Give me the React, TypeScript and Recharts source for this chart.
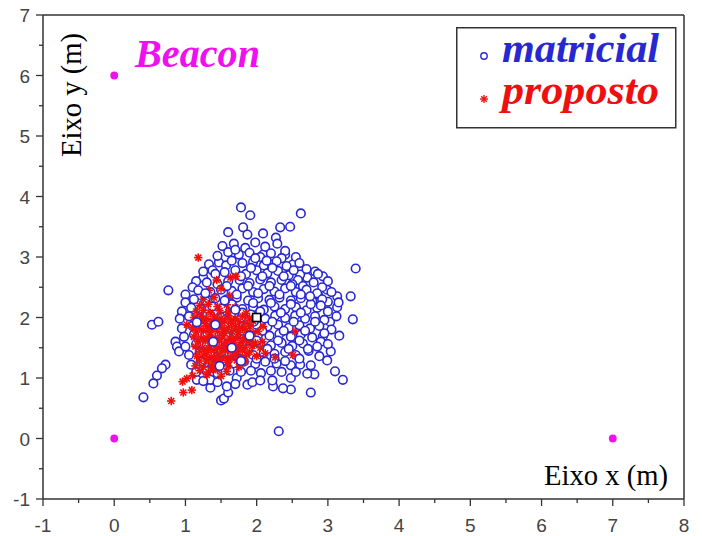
import { ScatterChart, Scatter, XAxis, YAxis, ReferenceLine, Legend, Customized } from "recharts"

// tick values (0.5 steps, labels only on integers)
const xTicks = [-1, -0.5, 0, 0.5, 1, 1.5, 2, 2.5, 3, 3.5, 4, 4.5, 5, 5.5, 6, 6.5, 7, 7.5, 8]
const yTicks = [-1, -0.5, 0, 0.5, 1, 1.5, 2, 2.5, 3, 3.5, 4, 4.5, 5, 5.5, 6, 6.5, 7]

const beacons: [number, number][] = [[0, 6], [0, 0], [7, 0]]
const realPos: [number, number][] = [[2, 2]]

// "matricial" estimates (blue circles)
const matricial: [number, number][] = [
  [1.78, 3.82], [1.91, 3.69], [2.62, 3.72], [1.6, 3.41], [1.81, 3.49], [1.87, 3.37], [2.47, 3.5], [2.33, 3.49],
  [2.27, 3.32], [2.29, 3.22], [2.09, 3.39], [1.33, 2.88], [1.47, 2.91], [1.57, 2.86], [0.76, 2.45], [1.25, 2.66],
  [1.15, 2.6], [3.39, 2.81], [3.32, 2.35], [0.53, 1.88], [0.62, 1.93], [0.86, 1.6], [0.88, 1.52], [0.91, 1.44],
  [0.72, 1.22], [0.67, 1.16], [0.6, 1.04], [0.55, 0.91], [0.41, 0.68], [1.16, 0.97], [1.35, 0.84], [1.35, 0.97],
  [1.5, 0.63], [1.54, 0.66], [1.6, 0.76], [1.58, 0.86], [1.87, 0.89], [1.94, 0.93], [1.72, 1.0], [3.35, 1.97],
  [3.03, 1.93], [3.16, 1.7], [2.93, 1.69], [3.04, 1.44], [2.99, 1.29], [3.1, 1.11], [3.21, 0.97], [2.73, 1.45],
  [2.76, 1.21], [2.81, 1.06], [2.71, 1.07], [2.76, 0.76], [2.48, 1.0], [2.48, 0.81], [2.37, 0.83], [2.23, 0.86],
  [2.22, 0.96], [2.31, 0.12], [2.61, 1.22], [2.48, 1.21], [2.82, 2.76], [2.93, 2.68], [2.99, 2.46], [3.13, 2.35],
  [3.13, 2.17], [3.0, 2.26], [2.86, 2.38], [2.71, 2.66], [2.61, 2.71], [2.51, 2.88], [2.4, 3.04], [2.23, 2.88],
  [2.09, 3.04],
  [1.52, 3.18], [1.68, 3.22], [1.84, 3.15], [1.98, 3.24], [2.12, 3.17], [2.4, 3.1],
  [1.45, 3.02], [1.6, 3.08], [1.75, 3.04], [1.9, 3.07], [2.05, 3.0], [2.2, 3.06], [2.35, 2.98], [2.55, 3.0],
  [1.38, 2.78], [1.65, 2.94], [1.8, 2.9], [1.95, 2.92], [2.1, 2.86], [2.28, 2.93], [2.42, 2.85], [2.6, 2.9], [2.7, 2.8],
  [1.25, 2.76], [1.42, 2.72], [1.55, 2.75], [1.7, 2.78], [1.85, 2.72], [2.0, 2.78], [2.15, 2.73], [2.3, 2.77],
  [2.45, 2.7], [2.58, 2.62], [2.86, 2.72], [3.0, 2.6],
  [1.1, 2.5], [1.3, 2.58], [1.45, 2.55], [1.6, 2.6], [1.76, 2.62], [1.9, 2.57], [2.05, 2.63], [2.2, 2.58],
  [2.35, 2.62], [2.5, 2.55], [2.65, 2.52], [2.8, 2.58], [2.92, 2.5],
  [1.0, 2.38], [1.18, 2.45], [1.35, 2.42], [1.5, 2.46], [1.65, 2.44], [1.8, 2.48], [1.95, 2.42], [2.1, 2.47],
  [2.25, 2.43], [2.4, 2.48], [2.55, 2.42], [2.7, 2.46], [2.85, 2.4], [3.05, 2.42],
  [1.0, 2.25], [1.12, 2.3], [1.28, 2.28], [1.42, 2.32], [1.58, 2.3], [1.72, 2.33], [1.88, 2.28], [2.02, 2.32],
  [2.18, 2.29], [2.32, 2.33], [2.48, 2.28], [2.62, 2.32], [2.78, 2.27], [2.92, 2.3], [3.15, 2.25],
  [0.95, 2.1], [1.08, 2.16], [1.22, 2.14], [1.38, 2.18], [1.52, 2.15], [1.66, 2.18], [1.8, 2.14], [1.95, 2.17],
  [2.1, 2.13], [2.25, 2.18], [2.4, 2.14], [2.55, 2.17], [2.7, 2.12], [2.85, 2.16], [3.0, 2.1],
  [0.92, 1.98], [1.05, 2.02], [1.2, 1.98], [1.35, 2.03], [1.5, 2.0], [1.64, 2.04], [1.78, 1.99], [1.92, 2.05],
  [2.12, 1.98], [2.26, 2.03], [2.4, 1.99], [2.54, 2.03], [2.68, 1.98], [2.82, 2.02], [2.95, 1.96], [3.12, 2.02],
  [0.95, 1.82], [1.1, 1.86], [1.25, 1.84], [1.4, 1.88], [1.55, 1.85], [1.7, 1.88], [1.85, 1.84], [2.0, 1.88],
  [2.15, 1.85], [2.3, 1.88], [2.45, 1.83], [2.6, 1.87], [2.75, 1.82], [2.88, 1.86], [3.05, 1.8],
  [0.98, 1.68], [1.12, 1.72], [1.28, 1.7], [1.42, 1.73], [1.58, 1.7], [1.72, 1.73], [1.88, 1.68], [2.02, 1.72],
  [2.18, 1.7], [2.32, 1.73], [2.48, 1.68], [2.62, 1.72], [2.78, 1.67], [2.9, 1.6],
  [1.0, 1.52], [1.15, 1.56], [1.3, 1.54], [1.45, 1.58], [1.6, 1.55], [1.75, 1.58], [1.9, 1.53], [2.05, 1.57],
  [2.2, 1.54], [2.35, 1.58], [2.5, 1.53], [2.65, 1.57], [2.85, 1.52], [3.0, 1.56],
  [1.05, 1.38], [1.2, 1.42], [1.35, 1.4], [1.5, 1.43], [1.65, 1.4], [1.8, 1.43], [1.95, 1.38], [2.1, 1.42],
  [2.25, 1.4], [2.4, 1.43], [2.55, 1.38], [2.88, 1.36],
  [1.08, 1.22], [1.22, 1.27], [1.38, 1.25], [1.52, 1.28], [1.68, 1.24], [1.82, 1.27], [1.98, 1.23], [2.12, 1.27],
  [2.28, 1.24], [2.4, 1.28], [2.6, 1.32],
  [1.15, 1.1], [1.3, 1.12], [1.45, 1.08], [1.62, 1.12], [1.78, 1.1], [1.92, 1.12], [2.06, 1.08], [2.2, 1.12],
  [2.35, 1.1], [2.55, 1.1], [1.25, 0.95], [1.45, 0.93], [2.05, 0.96], [1.7, 0.9],
  [1.58, 2.52], [1.72, 2.38], [1.88, 2.52], [2.02, 2.4], [2.18, 2.52], [2.32, 2.38], [2.48, 2.52], [2.62, 2.38],
  [1.65, 2.22], [1.8, 2.08], [1.95, 2.24], [2.05, 2.1], [2.2, 2.24], [2.34, 2.08], [2.48, 2.22], [2.62, 2.08],
  [2.76, 2.22], [1.8, 1.78], [1.96, 1.93], [2.08, 1.78], [2.22, 1.93], [2.38, 1.78], [2.52, 1.93], [2.68, 1.78],
  [2.82, 1.93], [1.78, 2.68], [1.92, 2.82], [2.08, 2.68], [2.22, 2.82], [2.38, 2.68], [2.52, 2.78], [1.98, 2.98],
  [2.14, 2.94], [1.7, 3.12], [2.0, 1.62], [2.15, 1.48], [2.3, 1.62], [2.45, 1.48], [2.6, 1.62], [2.72, 1.48],
  [1.88, 1.48], [2.25, 1.32], [2.0, 1.32], [1.75, 1.32], [2.75, 2.35], [2.9, 2.2], [2.95, 1.74],
]

// "matricial" estimates that sit on top of the red cluster
const matricialTop: [number, number][] = [
  [1.42, 1.88], [1.65, 1.5], [1.16, 1.92], [1.7, 2.13], [1.39, 1.6], [1.55, 2.28], [1.28, 2.4], [1.9, 1.7],
  [1.48, 1.2], [1.78, 1.28],
]

// "proposto" estimates (red asterisks)
const proposto: [number, number][] = [
  [1.18, 2.99], [0.8, 0.62], [0.97, 0.76], [1.09, 0.8], [0.96, 0.94], [1.02, 0.99], [2.26, 1.34], [2.51, 1.38],
  [2.54, 1.77], [1.44, 2.62], [1.63, 2.66], [1.71, 2.68], [1.02, 1.88], [2.09, 1.85],
  [1.25, 2.3], [1.4, 2.33], [1.55, 2.28], [1.62, 2.36], [1.33, 2.45], [1.5, 2.48],
  [1.2, 2.2], [1.32, 2.22], [1.45, 2.18], [1.58, 2.21], [1.7, 2.17],
  [1.15, 2.1], [1.25, 2.12], [1.35, 2.08], [1.48, 2.11], [1.6, 2.09], [1.72, 2.12], [1.85, 2.07],
  [1.12, 2.0], [1.22, 2.02], [1.3, 1.98], [1.4, 2.01], [1.5, 1.99], [1.6, 2.03], [1.7, 1.98], [1.8, 2.02], [1.9, 1.99],
  [1.18, 1.92], [1.28, 1.9], [1.38, 1.93], [1.46, 1.91], [1.55, 1.94], [1.65, 1.9], [1.75, 1.93], [1.85, 1.91], [1.95, 1.94],
  [1.1, 1.84], [1.2, 1.82], [1.3, 1.85], [1.4, 1.83], [1.5, 1.86], [1.6, 1.83], [1.7, 1.85], [1.8, 1.82], [1.9, 1.85],
  [1.15, 1.76], [1.25, 1.78], [1.35, 1.75], [1.45, 1.77], [1.55, 1.74], [1.65, 1.77], [1.75, 1.75], [1.85, 1.78],
  [1.95, 1.75], [2.02, 1.77],
  [1.12, 1.68], [1.22, 1.66], [1.32, 1.69], [1.42, 1.67], [1.52, 1.7], [1.62, 1.66], [1.72, 1.69], [1.82, 1.67], [1.92, 1.69],
  [1.18, 1.6], [1.28, 1.62], [1.38, 1.59], [1.48, 1.61], [1.58, 1.58], [1.68, 1.62], [1.78, 1.59], [1.88, 1.61],
  [1.98, 1.58], [2.08, 1.6],
  [1.14, 1.52], [1.24, 1.5], [1.34, 1.53], [1.44, 1.51], [1.54, 1.54], [1.64, 1.5], [1.74, 1.53], [1.84, 1.51],
  [1.94, 1.53], [2.05, 1.5],
  [1.2, 1.44], [1.3, 1.42], [1.4, 1.45], [1.5, 1.43], [1.6, 1.46], [1.7, 1.42], [1.8, 1.45], [1.9, 1.43], [2.12, 1.41],
  [1.16, 1.36], [1.26, 1.38], [1.36, 1.35], [1.46, 1.37], [1.56, 1.34], [1.66, 1.37], [1.76, 1.35], [1.86, 1.38], [2.0, 1.36],
  [1.2, 1.28], [1.3, 1.3], [1.4, 1.27], [1.5, 1.29], [1.6, 1.26], [1.72, 1.29], [1.84, 1.27],
  [1.14, 1.2], [1.25, 1.18], [1.36, 1.21], [1.48, 1.19], [1.6, 1.2], [1.75, 1.18],
  [1.2, 1.12], [1.32, 1.1], [1.45, 1.13], [1.58, 1.11], [1.1, 1.04], [1.3, 1.05], [1.5, 1.03],
  [1.24, 1.96], [1.44, 1.96], [1.64, 1.96], [1.34, 1.8], [1.54, 1.8], [1.74, 1.8], [1.27, 1.64], [1.47, 1.64],
  [1.67, 1.64], [1.87, 1.64], [1.33, 1.48], [1.53, 1.48], [1.73, 1.48], [1.42, 1.32], [1.62, 1.32], [1.38, 1.15],
]

const toPts = (arr: [number, number][]) => arr.map(([x, y]) => ({ x, y }))

const BLUE = "#2828d2"
const RED = "#ee1010"
const MAGENTA = "#ee10ee"
const serif = "'Liberation Serif', 'Times New Roman', serif"
const sans = "'Liberation Sans', Arial, sans-serif"

const CircleMark = (props: any) => (
  <circle cx={props.cx} cy={props.cy} r={4.3} fill="#fff" stroke={BLUE} strokeWidth={1.6} />
)

const StarMark = (props: any) => {
  const { cx, cy } = props
  const r = 4.2
  const d = r * 0.7071
  return (
    <g stroke={RED} strokeWidth={1.6}>
      <line x1={cx - r} y1={cy} x2={cx + r} y2={cy} />
      <line x1={cx} y1={cy - r} x2={cx} y2={cy + r} />
      <line x1={cx - d} y1={cy - d} x2={cx + d} y2={cy + d} />
      <line x1={cx - d} y1={cy + d} x2={cx + d} y2={cy - d} />
    </g>
  )
}

const BeaconMark = (props: any) => <circle cx={props.cx} cy={props.cy} r={3.9} fill={MAGENTA} />

const SquareMark = (props: any) => (
  <rect x={props.cx - 4} y={props.cy - 4} width={8} height={8} fill="#fff" stroke="#000" strokeWidth={1.6} />
)

const XTick = (props: any) => {
  const { x, y, payload } = props
  const major = Number.isInteger(payload.value)
  return (
    <g>
      <line x1={x} x2={x} y1={y} y2={y + (major ? 7 : 4)} stroke="#333" strokeWidth={1.3} />
      {major && (
        <text x={x} y={y + 33} textAnchor="middle" fill="#444" fontSize={19} fontFamily={sans}>
          {payload.value}
        </text>
      )}
    </g>
  )
}

const YTick = (props: any) => {
  const { x, y, payload } = props
  const major = Number.isInteger(payload.value)
  return (
    <g>
      <line x1={x} x2={x - (major ? 7 : 4)} y1={y} y2={y} stroke="#333" strokeWidth={1.3} />
      {major && (
        <text x={x - 13} y={y + 7} textAnchor="end" fill="#444" fontSize={19} fontFamily={sans}>
          {payload.value}
        </text>
      )}
    </g>
  )
}

// legend svg has 12px of spare room above so the big italic text is never clipped
const LegendBox = () => (
  <svg width={221} height={114} style={{ overflow: "visible" }}>
    <rect x={0.75} y={12.75} width={219} height={100} fill="#fff" stroke="#333" strokeWidth={1.5} />
    <circle cx={28} cy={41} r={3.2} fill="#fff" stroke={BLUE} strokeWidth={1.4} />
    <text x={46} y={47} fill={BLUE} fontSize={42} fontWeight="bold" fontStyle="italic" fontFamily={serif}
      textLength={157} lengthAdjust="spacingAndGlyphs">matricial</text>
    <g stroke={RED} strokeWidth={1.4}>
      <line x1={24} y1={84} x2={32} y2={84} />
      <line x1={28} y1={80} x2={28} y2={88} />
      <line x1={25.2} y1={81.2} x2={30.8} y2={86.8} />
      <line x1={25.2} y1={86.8} x2={30.8} y2={81.2} />
    </g>
    <text x={46} y={89} fill={RED} fontSize={42} fontWeight="bold" fontStyle="italic" fontFamily={serif}
      textLength={157} lengthAdjust="spacingAndGlyphs">proposto</text>
  </svg>
)

const Annotations = () => (
  <g>
    <text x={135} y={67} fill={MAGENTA} fontSize={40} fontWeight="bold" fontStyle="italic" fontFamily={serif}
      textLength={125} lengthAdjust="spacingAndGlyphs">Beacon</text>
    <text x={544} y={485} fill="#000" fontSize={29} fontFamily={serif}
      textLength={124} lengthAdjust="spacingAndGlyphs">Eixo x (m)</text>
    <text transform="translate(81,157) rotate(-90)" fill="#000" fontSize={29} fontFamily={serif}
      textLength={124} lengthAdjust="spacingAndGlyphs">Eixo y (m)</text>
  </g>
)

export default function App() {
  return (
    <div style={{ position: "absolute", left: 0, top: 0, background: "#fff" }}>
      <ScatterChart width={702} height={536} margin={{ top: 15, right: 18, bottom: 7, left: 10 }}>
        <XAxis
          type="number"
          dataKey="x"
          domain={[-1, 8]}
          ticks={xTicks}
          interval={0}
          allowDataOverflow
          height={30}
          tickSize={0}
          tickMargin={0}
          tickLine={false}
          tick={<XTick />}
          axisLine={{ stroke: "#333", strokeWidth: 1.5 }}
        />
        <YAxis
          type="number"
          dataKey="y"
          domain={[-1, 7]}
          ticks={yTicks}
          interval={0}
          allowDataOverflow
          width={33}
          tickSize={0}
          tickMargin={0}
          tickLine={false}
          tick={<YTick />}
          axisLine={{ stroke: "#333", strokeWidth: 1.5 }}
        />
        <ReferenceLine y={7} stroke="#333" strokeWidth={1.5} />
        <ReferenceLine x={8} stroke="#333" strokeWidth={1.5} />
        <Scatter name="matricial" data={toPts(matricial)} shape={<CircleMark />} isAnimationActive={false} />
        <Scatter name="proposto" data={toPts(proposto)} shape={<StarMark />} isAnimationActive={false} />
        <Scatter name="matricial-top" data={toPts(matricialTop)} shape={<CircleMark />} isAnimationActive={false} legendType="none" />
        <Scatter name="beacon" data={toPts(beacons)} shape={<BeaconMark />} isAnimationActive={false} legendType="none" />
        <Scatter name="real" data={toPts(realPos)} shape={<SquareMark />} isAnimationActive={false} legendType="none" />
        <Customized component={<Annotations />} />
        <Legend
          layout="horizontal"
          verticalAlign="middle"
          align="center"
          content={<LegendBox />}
          wrapperStyle={{ position: "absolute", left: 456, top: 15, width: 221, height: 114 }}
        />
      </ScatterChart>
    </div>
  )
}
